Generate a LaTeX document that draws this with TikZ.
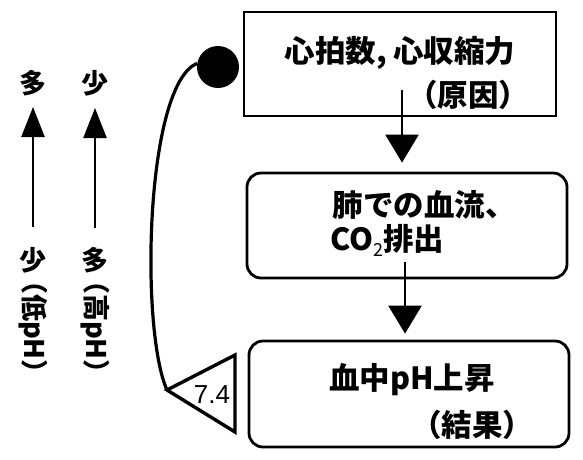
\documentclass[tikz,border=0pt]{standalone}
\usepackage{fontspec}
\setmainfont{Noto Sans CJK JP}
\newfontfamily\lib{Liberation Sans}
\usetikzlibrary{arrows.meta,calc}
\begin{document}
\begin{tikzpicture}[x=1pt,y=-1pt,
  sqbox/.style={draw,line width=2.8pt,inner sep=0pt,minimum width=#1},
  rbox/.style={sqbox=#1,rounded corners=14pt},
  lbl/.style={font=\fontsize{30.5}{30.5}\selectfont\bfseries,inner sep=0pt},
  side/.style={font=\fontsize{27}{27}\selectfont\bfseries,inner sep=0pt},
  flow/.style={line width=2.4pt,-{Triangle[width=33pt,length=28pt]}},
  up/.style={line width=2.4pt,-{Triangle[width=23pt,length=30pt]}}]
\useasboundingbox (0,0) rectangle (583,459);
% boxes
\node[sqbox=312pt,minimum height=104pt] (b1) at (400,64) {};
\node[rbox=320pt,minimum height=105pt] (b2) at (407,225.5) {};
\node[rbox=320pt,minimum height=106pt] (b3) at (409,394) {};
% texts
\node[lbl] (t1a) at (400,53) {心拍数,\hspace{6pt}心収縮力};
\node[lbl] (t1b) at (468,95) {（原因）};
\node[lbl] (t2a) at (424,205) {肺での血流、};
\node[lbl,anchor=west] (t2b) at (330,240) {CO\raisebox{-6pt}{\fontsize{18}{18}\selectfont\mdseries 2}排出};
\node[lbl] (t3a) at (412,380) {血中pH上昇};
\node[lbl] (t3b) at (472,425) {（結果）};
% flow arrows
\coordinate (a1s) at (402,90);
\coordinate (a2s) at (405,262);
\draw[flow,shorten >=9pt] (a1s) -- (a1s |- b2.north);
\draw[flow,shorten >=6pt] (a2s) -- (a2s |- b3.north);
% feedback
\node[circle,fill,minimum size=42pt,inner sep=0pt] (dot) at (218,67) {};
\coordinate (tip) at (167,390);
\coordinate (tr) at (235,355);
\coordinate (br) at (235,432);
\draw[line width=3.4pt,line join=miter] (tip) -- (tr) -- (br) -- cycle;
\node[font=\lib\fontsize{26}{26}\selectfont,inner sep=0pt] (val) at (212,395) {7.4};
\draw[line width=3.2pt] (dot.170) .. controls (145,85) and (140,330) .. (tip);
% left indicators
\node[side] (m1) at (33,83) {多};
\node[side] (m2) at (95,83) {少};
\node[side] (l1) at (33,260) {少};
\node[side] (l2) at (95,260) {多};
\node[side,rotate=-90] (l1b) at (33,327) {（低pH）};
\node[side,rotate=-90] (l2b) at (95,327) {（高pH）};
\coordinate (u1s) at (33,227);
\coordinate (u2s) at (95,228);
\draw[up] (u1s) -- ($(m1.center)+(0,24)$);
\draw[up] (u2s) -- ($(m2.center)+(0,25)$);
\end{tikzpicture}
\end{document}
